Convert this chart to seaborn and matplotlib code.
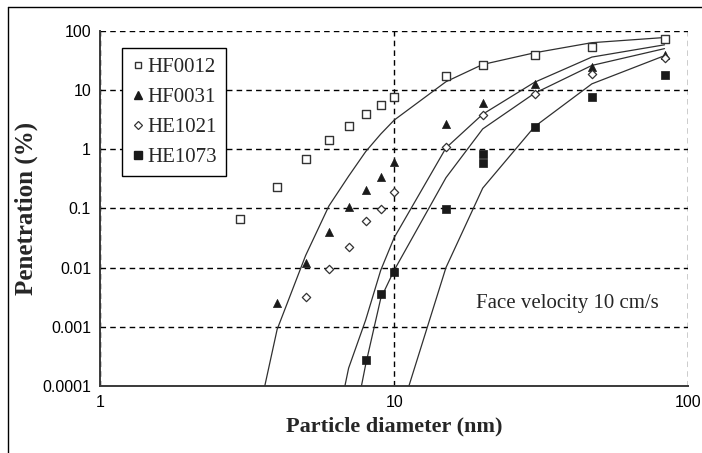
import numpy as np
import pandas as pd
import matplotlib
matplotlib.use("Agg")
import matplotlib.pyplot as plt
import seaborn as sns
from matplotlib.ticker import FixedLocator, FixedFormatter, NullLocator
from matplotlib.lines import Line2D

# Measured penetration (%) versus particle diameter (nm)
d_hf0012 = [3, 4, 5, 6, 7, 8, 9, 10, 15, 20, 30, 47, 83]
p_hf0012 = [0.067, 0.23, 0.69, 1.44, 2.5, 3.96, 5.6, 7.7, 17.4, 26.7, 39, 54, 73]

d_hf0031 = [4, 5, 6, 7, 8, 9, 10, 15, 20, 30, 47, 83]
p_hf0031 = [0.0025, 0.012, 0.040, 0.106, 0.206, 0.34, 0.61, 2.68, 6.1, 12.7, 24.7, 39]

d_he1021 = [5, 6, 7, 8, 9, 10, 15, 20, 30, 47, 83]
p_he1021 = [0.0032, 0.0095, 0.0224, 0.062, 0.098, 0.19, 1.1, 3.8, 8.6, 18.8, 35]

d_he1073 = [8, 9, 10, 15, 20, 20, 30, 47, 83]
p_he1073 = [0.00027, 0.0036, 0.0085, 0.098, 0.84, 0.59, 2.39, 7.7, 18]

# Filtration model curves
fit_d_hf0012 = [3, 4, 5, 6, 7, 8, 9, 10, 15, 20, 30, 47, 83]
fit_p_hf0012 = [1.3e-6, 0.0009, 0.016, 0.11, 0.35, 0.91, 1.8, 3.1, 13.8, 27, 42.5, 63, 77]
fit_d_hf0031 = [6, 7, 8, 9, 10, 15, 20, 30, 47, 83]
fit_p_hf0031 = [5e-6, 2e-4, 1.3e-3, 9e-3, 0.032, 1.05, 3.9, 13.5, 36, 58]
fit_d_he1021 = [7, 8, 9, 10, 15, 20, 30, 47, 83]
fit_p_he1021 = [8e-6, 2.3e-4, 3e-3, 9e-3, 0.33, 2.2, 8.8, 26, 50]
fit_d_he1073 = [10, 15, 20, 30, 47, 83]
fit_p_he1073 = [1.6e-5, 0.01, 0.22, 2.4, 12.7, 38]

series_names = ["HF0012", "HF0031", "HE1021", "HE1073"]

x_ticks = [1, 10, 100]
x_tick_labels = ["1", "10", "100"]
y_ticks = [1e-4, 1e-3, 1e-2, 1e-1, 1, 10, 100]
y_tick_labels = ["0.0001", "0.001", "0.01", "0.1", "1", "10", "100"]

sns.set_style("white")
serif = ["Liberation Serif", "DejaVu Serif"]
sans = ["Liberation Sans", "DejaVu Sans"]

fig = plt.figure(figsize=(7.02, 4.53), dpi=100)
ax = fig.add_axes([0.1425, 0.148, 0.838, 0.784])

axis_col = "#3a3a3a"

# model curves
fits = [(fit_d_hf0012, fit_p_hf0012), (fit_d_hf0031, fit_p_hf0031),
        (fit_d_he1021, fit_p_he1021), (fit_d_he1073, fit_p_he1073)]
for fd, fp in fits:
    df = pd.DataFrame({"d": fd, "p": fp})
    sns.lineplot(data=df, x="d", y="p", ax=ax, color="#303030", lw=0.9,
                 sort=False, estimator=None, zorder=3)

# measured points
meas = [
    (d_hf0012, p_hf0012, dict(marker="s", s=26, facecolor="white", edgecolor="#333333", linewidth=1.0)),
    (d_hf0031, p_hf0031, dict(marker="^", s=34, facecolor="#1a1a1a", edgecolor="#1a1a1a", linewidth=0.5)),
    (d_he1021, p_he1021, dict(marker="D", s=18, facecolor="white", edgecolor="#333333", linewidth=0.9)),
    (d_he1073, p_he1073, dict(marker="s", s=30, facecolor="#1a1a1a", edgecolor="#1a1a1a", linewidth=0.5)),
]
for d, p, style in meas:
    df = pd.DataFrame({"d": d, "p": p})
    sns.scatterplot(data=df, x="d", y="p", ax=ax, zorder=4, legend=False, **style)

ax.set_xscale("log")
ax.set_yscale("log")
ax.set_xlim(1, 100)
ax.set_ylim(1e-4, 100)

ax.xaxis.set_major_locator(FixedLocator(x_ticks))
ax.xaxis.set_major_formatter(FixedFormatter(x_tick_labels))
ax.xaxis.set_minor_locator(NullLocator())
ax.yaxis.set_major_locator(FixedLocator(y_ticks))
ax.yaxis.set_major_formatter(FixedFormatter(y_tick_labels))
ax.yaxis.set_minor_locator(NullLocator())

ax.grid(True, which="major", color="black", linestyle=(0, (4, 3)), linewidth=1.0)
ax.set_axisbelow(True)

for side in ["top", "right"]:
    ax.spines[side].set_visible(False)
for side in ["left", "bottom"]:
    ax.spines[side].set_color(axis_col)
    ax.spines[side].set_linewidth(1.4)

ax.tick_params(axis="both", which="major", direction="inout", length=7, width=1.0,
               color=axis_col, labelsize=11.5, pad=3, labelcolor="black")
for lab in ax.get_xticklabels() + ax.get_yticklabels():
    lab.set_family(sans)

ax.set_xlabel("Particle diameter (nm)", fontsize=16, fontweight="bold", family=serif, labelpad=5)
ax.set_ylabel("Penetration (%)", fontsize=18, fontweight="bold", family=serif, labelpad=3)

ax.text(0.795, 0.232, "Face velocity 10 cm/s", transform=ax.transAxes, fontsize=15,
        family=serif, ha="center", va="center")

handles = [
    Line2D([], [], ls="none", marker="s", ms=5, mfc="white", mec="#333333", mew=1.0),
    Line2D([], [], ls="none", marker="^", ms=6, mfc="#1a1a1a", mec="#1a1a1a"),
    Line2D([], [], ls="none", marker="D", ms=4, mfc="white", mec="#333333", mew=0.9),
    Line2D([], [], ls="none", marker="s", ms=6, mfc="#1a1a1a", mec="#1a1a1a"),
]
leg = ax.legend(handles, series_names, loc="upper left", bbox_to_anchor=(0.038, 0.952),
                frameon=True, fancybox=False, edgecolor="black", framealpha=1,
                prop={"family": serif, "size": 15}, handlelength=0.6, handletextpad=0.15,
                labelspacing=0.5, borderpad=0.45, borderaxespad=0)
leg.get_frame().set_linewidth(1.0)

# outer frame lines (left and top)
fig.add_artist(Line2D([0.0114, 0.0114], [0, 0.985], transform=fig.transFigure, color="black", lw=1.0))
fig.add_artist(Line2D([0.0114, 1.0], [0.985, 0.985], transform=fig.transFigure, color="black", lw=1.0))

fig.savefig("out.png", dpi=100, facecolor="white")
